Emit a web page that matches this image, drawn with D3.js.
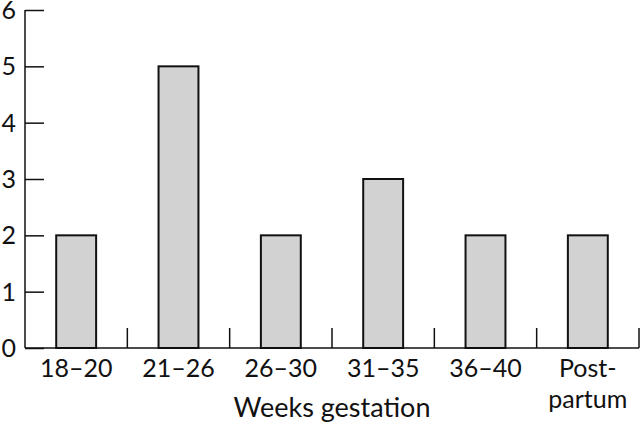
<!DOCTYPE html>
<html>
<head>
<meta charset="utf-8">
<script src="https://cdn.jsdelivr.net/npm/d3@7"></script>
<style>
  body { margin: 0; background: #fff; }
  text { font-family: Lato, "DejaVu Sans", sans-serif; fill: #111; }
</style>
</head>
<body>
<div id="chart"></div>
<script>
// data
var categories = ["18–20", "21–26", "26–30", "31–35", "36–40", "Post-partum"];
var labelLines = [["18–20"], ["21–26"], ["26–30"], ["31–35"], ["36–40"], ["Post-", "partum"]];
var counts = [2, 5, 2, 3, 2, 2];
var yTicks = [0, 1, 2, 3, 4, 5, 6];

var margin = {top: 10, right: 1, bottom: 76, left: 25},
    width = 640 - margin.left - margin.right,
    height = 424 - margin.top - margin.bottom;

var svg = d3.select("#chart").append("svg")
    .attr("width", 640)
    .attr("height", 424)
    .append("g")
    .attr("transform", "translate(" + margin.left + "," + margin.top + ")");

var x = d3.scaleBand().domain(categories).range([0, width]).paddingInner(0.61).paddingOuter(0.305);
var xb = d3.scaleBand().domain(categories).range([0, width]);
var y = d3.scaleLinear().domain([0, 6]).range([height, 0]);

// bars
svg.selectAll("rect.bar")
    .data(counts)
    .enter().append("rect")
    .attr("class", "bar")
    .attr("x", function(d, i) { return x(categories[i]); })
    .attr("y", function(d) { return y(d); })
    .attr("width", x.bandwidth())
    .attr("height", function(d) { return y(0) - y(d); })
    .attr("fill", "#d2d2d2")
    .attr("stroke", "#111")
    .attr("stroke-width", 2);

// y axis, ticks pointing inward
var yAxis = svg.append("g")
    .call(d3.axisLeft(y).tickValues(yTicks).tickSize(-19).tickPadding(10).tickFormat(d3.format("d")));
yAxis.select(".domain").attr("stroke", "#111").attr("stroke-width", 1.5).attr("d", "M0," + y(6) + "V" + y(0));
yAxis.selectAll(".tick line").attr("stroke", "#111").attr("stroke-width", 1.5);
yAxis.selectAll(".tick text").attr("font-size", 25).attr("x", -9).attr("dy", "0.34em");

// x axis baseline with category dividers
svg.append("line")
    .attr("x1", 0).attr("x2", width)
    .attr("y1", y(0)).attr("y2", y(0))
    .attr("stroke", "#111").attr("stroke-width", 1.5);

svg.selectAll("line.divider")
    .data(categories)
    .enter().append("line")
    .attr("class", "divider")
    .attr("x1", function(d) { return xb(d) + xb.bandwidth(); })
    .attr("x2", function(d) { return xb(d) + xb.bandwidth(); })
    .attr("y1", y(0)).attr("y2", y(0) - 20)
    .attr("stroke", "#111").attr("stroke-width", 1.5);

// category labels
var lab = svg.selectAll("text.cat")
    .data(labelLines)
    .enter().append("text")
    .attr("class", "cat")
    .attr("text-anchor", "middle")
    .attr("font-size", 25)
    .attr("x", function(d, i) { return xb(categories[i]) + xb.bandwidth() / 2; })
    .attr("y", y(0) + 29);
lab.selectAll("tspan")
    .data(function(d) { return d; })
    .enter().append("tspan")
    .attr("x", function() { return d3.select(this.parentNode).attr("x"); })
    .attr("dy", function(d, i) { return i ? 31 : 0; })
    .text(function(d) { return d; });

svg.append("text")
    .attr("text-anchor", "middle")
    .attr("font-size", 27)
    .attr("x", 332 - margin.left)
    .attr("y", y(0) + 69)
    .text("Weeks gestation");
</script>
</body>
</html>
